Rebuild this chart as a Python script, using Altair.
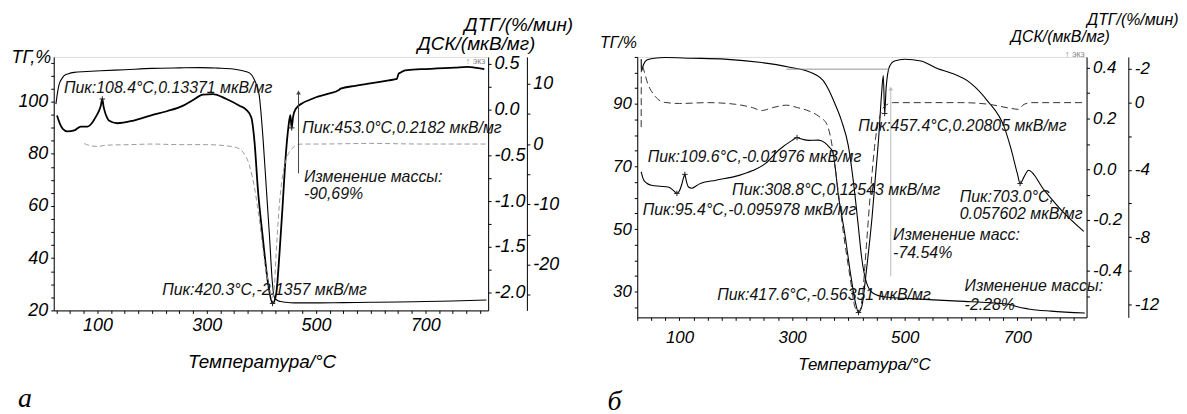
import altair as alt
import pandas as pd

# ---------------- Panel а ----------------
a_tg = [(24, 99), (27, 103.5), (30, 106.7), (35, 108.8), (39, 109.9), (47, 110.7), (57, 111.2),
        (80, 111.5), (106, 111.8), (150, 112.2), (200, 112.7), (250, 112.9), (288, 113), (320, 112.8),
        (348, 112.5), (366, 111.8), (378, 111), (388, 108), (396, 102.5), (403, 86), (409, 67),
        (415, 48), (420, 31), (423, 25.5), (428, 24), (435, 23.4), (445, 23.1), (460, 22.9),
        (500, 22.9), (550, 23), (600, 23.1), (650, 23.2), (700, 23.4), (750, 23.6), (812, 24)]
a_dsc = [(26, -0.065), (31, -0.15), (36.5, -0.21), (45.5, -0.239), (57.6, -0.228), (69.7, -0.185),
         (81.9, -0.185), (91, -0.138), (97, -0.08), (103, -0.011), (106, 0.04), (109, 0.116),
         (111, 0.04), (113, -0.011), (117, -0.08), (121, -0.12), (136, -0.149), (166, -0.12),
         (197, -0.065), (227, -0.018), (257, 0.043), (275, 0.105), (293, 0.163), (311, 0.17),
         (336, 0.116), (360, 0.043), (372, 0.0), (381.5, -0.084), (387.5, -0.355), (393.5, -0.86),
         (402.6, -1.4), (411.7, -1.877), (420.5, -2.12), (427, -2.02), (433, -1.587), (439, -1.04),
         (443.8, -0.57), (449.8, -0.174), (453, -0.06), (455.5, -0.2), (458, -0.08), (463, 0.01),
         (475, 0.07), (490, 0.11), (500, 0.135), (520, 0.17), (542, 0.215), (545, 0.23), (572, 0.26),
         (602, 0.29), (633, 0.32), (648, 0.335), (651, 0.39), (655, 0.405), (663, 0.43), (693, 0.442),
         (754, 0.46), (778, 0.467), (790, 0.46), (808, 0.442)]
a_dtg = [(76, 0.07), (88, -0.3), (100, -0.4), (115, -0.2), (130, -0.15), (160, -0.1), (200, 0),
         (250, -0.1), (300, -0.1), (336, -0.3), (355, -0.6), (366, -1.3), (378, -3.5), (387.5, -7.3),
         (396.6, -12.8), (405.7, -19.4), (414.7, -23.8), (419.6, -25.5), (423, -24.5), (427, -18.3),
         (433, -10), (439, -5.2), (448, -1.9), (456, -0.8), (463, -0.2), (475, 0), (500, 0),
         (600, 0.1), (700, 0), (812, 0)]
a_peaks = [(109, 0.116), (420.5, -2.12), (455.5, -0.2)]
a_notes = [("Пик:108.4°C,0.13371 мкВ/мг", 38.7, 105.3),
           ("Пик:453.0°C,0.2182 мкВ/мг", 474.7, 89.7),
           ("Изменение массы:", 478, 71.0),
           ("-90,69%", 478, 64.6),
           ("Пик:420.3°C,-2.1357 мкВ/мг", 218.5, 28)]
a_exo = [("↑ экз", 774, 115.6)]
a_arrow = [(468, 72.5, 103.5)]

# ---------------- Panel б ----------------
b_tg = [(32, 104.3), (32.5, 100.5), (36, 102.5), (42, 104), (55, 104.6), (75, 104.8), (120, 104.6),
        (180, 104.3), (246, 103.2), (294, 101.8), (330, 100.3), (342, 99.3), (355, 97.5),
        (365, 94.5), (375, 90.5), (388, 84.5), (400, 76.5), (409, 65), (417.6, 51), (423.5, 41),
        (432, 33), (444, 29.5), (465, 28.3), (510, 27.8), (560, 27.3), (606, 26.9), (650, 26.5),
        (690, 25.8), (700, 25.2), (720, 24.5), (760, 23.8), (820, 23.2)]
b_dsc = [(32, -0.01), (36, -0.04), (42, -0.055), (50, -0.063), (65, -0.067), (80, -0.07),
         (90, -0.085), (95.4, -0.095), (100, -0.085), (104, -0.06), (107, -0.035), (109.6, -0.02),
         (112, -0.045), (116, -0.07), (122, -0.075), (130, -0.065), (138, -0.055), (165, -0.043),
         (206, -0.024), (230, -0.005), (253, 0.023), (276, 0.075), (300, 0.114), (308.8, 0.125),
         (315, 0.12), (329, 0.114), (347, 0.115), (358, 0.105), (366, 0.087), (372, 0.07),
         (377, 0.0), (382, -0.1), (388, -0.18), (394, -0.26), (403, -0.4), (412, -0.52),
         (418, -0.565), (424, -0.54), (430, -0.44), (436, -0.32), (442, -0.19), (448, -0.03),
         (454, 0.13), (459, 0.3), (462, 0.37), (464.5, 0.22), (467, 0.32), (473, 0.405),
         (482, 0.427), (500, 0.434), (529, 0.427), (559, 0.396), (582, 0.38), (617, 0.34),
         (647, 0.27), (677, 0.165), (688, 0.087), (700, -0.016), (705, -0.056), (712, -0.03),
         (720, -0.004), (747, -0.08), (782, -0.17), (818, -0.245)]
b_dtg = [(32, -1.46), (32.3, 2.3), (35, 2.1), (44, 1.1), (56, 0.41), (73, 0.02), (100, -0.05),
         (150, 0.0), (200, -0.1), (230, -0.3), (246, -0.47), (265, -0.3), (290, -0.15), (310, -0.3),
         (330, -0.5), (347, -0.8), (362, -1.3), (370, -2.35), (379, -4.5), (391, -7.7),
         (403, -10.4), (412, -12.2), (418, -12.5), (425, -11.5), (432, -8.5), (440, -5),
         (448, -2.2), (456, -0.8), (465, -0.2), (480, 0), (600, 0), (650, -0.1), (690, -0.35),
         (702, -0.4), (712, -0.1), (725, 0), (820, 0)]
b_peaks = [(95.4, -0.095), (109.6, -0.02), (308.8, 0.125), (418, -0.565), (464.5, 0.22),
           (705, -0.056)]
b_notes = [("Пик:109.6°C,-0.01976 мкВ/мг", 43.5, 73.0),
           ("Пик:308.8°C,0.12543 мкВ/мг", 193.5, 62.5),
           ("Пик:95.4°C,-0.095978 мкВ/мг", 34.7, 56.1),
           ("Пик:417.6°C,-0.56351 мкВ/мг", 167, 28.8),
           ("Пик:457.4°C,0.20805 мкВ/мг", 417.6, 82.8),
           ("Пик:703.0°C,", 597.6, 60.3),
           ("0.057602 мкВ/мг", 597.6, 54.9),
           ("Изменение масс:", 479.4, 48.2),
           ("-74.54%", 479.4, 42.5),
           ("Изменение массы:", 606.4, 31.7),
           ("-2.28%", 606.4, 25.6)]
b_exo = [("↑ экз", 784.7, 106)]
b_arrow = [(475.3, 34.9, 94.9)]
b_hline = [(290, 472, 101.1)]

FONT = "Liberation Sans"
MINUS_FIX = "replace(format(datum.value,'.1f'),'\u2212','-')"
PLUS = "M-1,0L1,0M0,-1L0,1"


def axis(**kw):
    base = dict(grid=False, labelFont=FONT, labelFontStyle="italic", labelColor="black",
                titleFont=FONT, titleFontStyle="italic", titleFontWeight="normal",
                titleColor="black", domainColor="black", tickColor="black",
                labelOverlap=False, labelFlush=False, tickSize=3, labelPadding=3)
    base.update(kw)
    return alt.Axis(**base)


def panel(cfg):
    xs = alt.Scale(domain=cfg["xdom"], nice=False, zero=False)
    x = alt.X("T:Q", scale=xs, axis=axis(
        values=list(range(25, 826, 25)),
        labelExpr="datum.value % 200 == 100 ? datum.value : ''",
        labelFontSize=cfg["fs_tick"], labelPadding=cfg["xlabpad"],
        title="Температура/°C", titleFontSize=cfg["fs_title"],
        titleX=cfg["xtitle_x"], titleY=cfg["xtitle_y"], titleBaseline="middle"))

    tg_scale = alt.Scale(domain=cfg["tgdom"], nice=False, zero=False)
    dsc_scale = alt.Scale(domain=cfg["dscdom"], nice=False, zero=False)
    dtg_scale = alt.Scale(domain=cfg["dtgdom"], nice=False, zero=False)

    tg = alt.Chart(pd.DataFrame(cfg["tg"], columns=["T", "v"])).mark_line(
        color="black", strokeWidth=1.1, interpolate="monotone").encode(
        x=x, y=alt.Y("v:Q", scale=tg_scale, axis=axis(
            values=cfg["tg_ticks"], labelExpr=cfg["tg_label"], labelFontSize=cfg["fs_tick"],
            title=cfg["tg_title"], titleAngle=0, titleAlign="left", titleBaseline="middle",
            titleX=cfg["tg_title_xy"][0], titleY=cfg["tg_title_xy"][1],
            titleFontSize=cfg["fs_ytitle"])))

    dsc = alt.Chart(pd.DataFrame(cfg["dsc"], columns=["T", "v"])).mark_line(
        color="black", strokeWidth=cfg["dsc_w"], interpolate="monotone").encode(
        x=x, y=alt.Y("v:Q", scale=dsc_scale, axis=axis(
            orient="right", values=cfg["dsc_ticks"], labelExpr=cfg["dsc_label"],
            labelFontSize=cfg["fs_tick"], title="ДСК/(мкВ/мг)", titleAngle=0,
            titleAlign="right", titleBaseline="middle",
            titleX=cfg["dsc_title_xy"][0], titleY=cfg["dsc_title_xy"][1],
            titleFontSize=cfg["fs_ytitle2"])))

    dtg = alt.Chart(pd.DataFrame(cfg["dtg"], columns=["T", "v"])).mark_line(
        color=cfg["dtg_color"], strokeWidth=1, strokeDash=cfg["dtg_dash"],
        interpolate="monotone").encode(
        x=x, y=alt.Y("v:Q", scale=dtg_scale, axis=axis(
            orient="right", offset=cfg["dtg_offset"], values=cfg["dtg_ticks"],
            labelExpr=cfg["dtg_label"], labelFontSize=cfg["fs_tick"],
            title="ДТГ/(%/мин)", titleAngle=0, titleAlign="right", titleBaseline="middle",
            titleX=cfg["dtg_title_xy"][0], titleY=cfg["dtg_title_xy"][1],
            titleFontSize=cfg["fs_ytitle2"])))

    peaks = alt.Chart(pd.DataFrame(cfg["peaks"], columns=["T", "v"])).mark_point(
        shape=PLUS, size=30, color="#222", strokeWidth=1, opacity=1).encode(
        x=x, y=alt.Y("v:Q", scale=dsc_scale, axis=None))

    ynone = lambda f: alt.Y(f, scale=tg_scale, axis=None)

    arrows = pd.DataFrame(cfg["arrow"], columns=["T", "y1", "y2"])
    arrow_rule = alt.Chart(arrows).mark_rule(color=cfg["arrow_color"], strokeWidth=1).encode(
        x=x, y=ynone("y1:Q"), y2="y2:Q")
    arrow_head = alt.Chart(arrows).mark_point(
        shape="triangle-up", filled=True, size=22, color=cfg["arrow_color"], opacity=1).encode(
        x=x, y=ynone("y2:Q"))

    notes = alt.Chart(pd.DataFrame(cfg["notes"], columns=["label", "T", "y"])).mark_text(
        align="left", baseline="middle", font=FONT, fontStyle="italic",
        fontSize=cfg["fs_note"], color="#111").encode(x=x, y=ynone("y:Q"), text="label:N")
    exo = alt.Chart(pd.DataFrame(cfg["exo"], columns=["label", "T", "y"])).mark_text(
        align="left", baseline="middle", font=FONT, fontSize=9, color="#888").encode(
        x=x, y=ynone("y:Q"), text="label:N")

    layers = [tg, dsc, dtg, peaks, arrow_rule, arrow_head, notes, exo]
    if cfg.get("hline"):
        hl = alt.Chart(pd.DataFrame(cfg["hline"], columns=["T", "T2", "y"])).mark_rule(
            color="#777", strokeWidth=0.8).encode(x=x, x2="T2:Q", y=ynone("y:Q"))
        layers.insert(4, hl)

    return alt.layer(*layers).resolve_scale(y="independent").properties(
        width=cfg["w"], height=cfg["h"],
        title=alt.TitleParams(cfg["letter"], orient="bottom", anchor="start", frame="group",
                              font="Liberation Serif", fontStyle="italic", fontWeight="normal",
                              fontSize=28, color="black", dx=cfg["letter_dx"],
                              offset=cfg["letter_off"]))


cfg_a = dict(
    tg=a_tg, dsc=a_dsc, dtg=a_dtg, peaks=a_peaks, notes=a_notes, exo=a_exo, arrow=a_arrow,
    arrow_color="#444", xdom=[20, 815], tgdom=[20, 117.1], dscdom=[-2.196, 0.576],
    dtgdom=[-27.6, 14.45], w=437, h=255,
    tg_ticks=list(range(20, 116, 5)), tg_label="datum.value % 20 == 0 ? datum.value : ''",
    tg_title="ТГ,%", tg_title_xy=(-43, 1),
    dsc_ticks=[-2.0, -1.75, -1.5, -1.25, -1.0, -0.75, -0.5, -0.25, 0.0, 0.25, 0.5],
    dsc_label="abs(datum.value*2 - round(datum.value*2)) < 0.001 ? " + MINUS_FIX + " : ''",
    dsc_title_xy=(47, -13), dsc_w=1.8,
    dtg_ticks=[-25, -20, -15, -10, -5, 0, 5, 10],
    dtg_label="datum.value % 10 == 0 ? datum.value + '' : ''",
    dtg_title_xy=(46, -33), dtg_offset=39, dtg_color="#9a9a9a", dtg_dash=[5, 3],
    fs_tick=18, fs_title=19, fs_ytitle=18, fs_ytitle2=19, fs_note=16,
    xlabpad=3, xtitle_x=209, xtitle_y=51,
    letter="а", letter_dx=-36, letter_off=14)

cfg_b = dict(
    tg=b_tg, dsc=b_dsc, dtg=b_dtg, peaks=b_peaks, notes=b_notes, exo=b_exo, arrow=b_arrow,
    hline=b_hline,
    arrow_color="#bbbbbb", xdom=[25, 823], tgdom=[21.8, 105], dscdom=[-0.584, 0.443],
    dtgdom=[-12.78, 2.72], w=452, h=262,
    tg_ticks=list(range(25, 106, 5)), tg_label="datum.value % 20 == 10 ? datum.value : ''",
    tg_title="ТГ/%", tg_title_xy=(-38, -14),
    dsc_ticks=[-0.5, -0.4, -0.3, -0.2, -0.1, 0.0, 0.1, 0.2, 0.3, 0.4],
    dsc_label="round(datum.value*10) % 2 == 0 ? " + MINUS_FIX + " : ''",
    dsc_title_xy=(23, -21), dsc_w=1.1,
    dtg_ticks=[2, 0, -2, -4, -6, -8, -10, -12],
    dtg_label="datum.value == 2 ? '-2' : (datum.value % 4 == 0 ? datum.value + '' : '')",
    dtg_title_xy=(50, -38), dtg_offset=42, dtg_color="#333333", dtg_dash=[7, 4],
    fs_tick=17, fs_title=17, fs_ytitle=16, fs_ytitle2=16, fs_note=16,
    xlabpad=9, xtitle_x=228, xtitle_y=47,
    letter="б", letter_dx=-30, letter_off=16)

chart = alt.hconcat(panel(cfg_a), panel(cfg_b), spacing=25).properties(
    padding={"left": 2, "top": 1, "right": 0, "bottom": 0}
).configure_view(stroke=None).configure(background="white")

chart.save("out.html", embed_options={"renderer": "svg", "actions": False})
